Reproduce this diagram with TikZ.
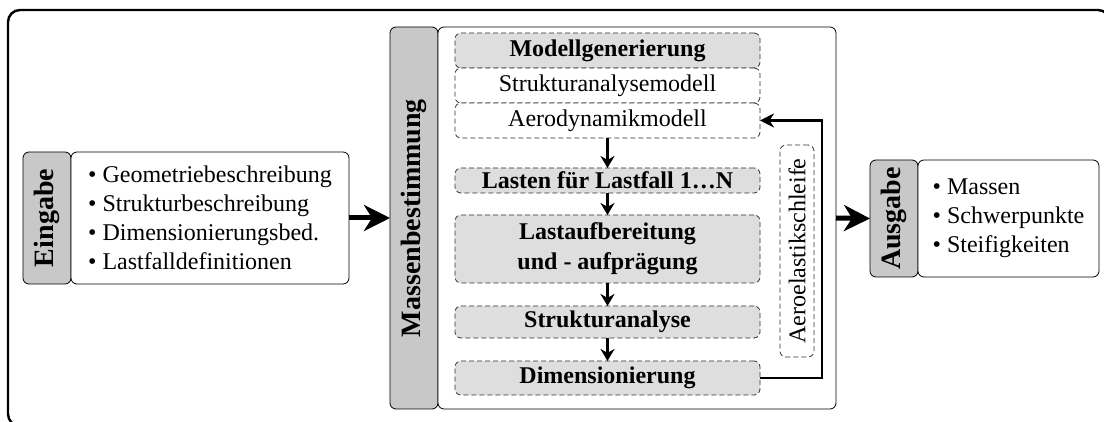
\documentclass[tikz,border=0pt]{standalone}
\usepackage{fontspec}
\setmainfont{Liberation Serif}
\usepackage{graphicx}
\usetikzlibrary{positioning}
\usetikzlibrary{arrows.meta}

\definecolor{seitengrau}{RGB}{200,200,200}
\definecolor{kastengrau}{RGB}{222,222,222}
\definecolor{strichgrau}{RGB}{50,50,50}

\begin{document}
\begin{tikzpicture}[x=0.5pt,y=-0.5pt,
      font=\fontsize{12}{14.5}\selectfont,
      seitenblock/.style={draw,fill=seitengrau,rounded corners=3pt,minimum width=24pt,inner sep=0pt,font=\fontsize{14}{16}\selectfont\bfseries},
      listenblock/.style={draw,fill=white,rounded corners=3pt,align=left,inner sep=0pt},
      schrittblock/.style={draw=strichgrau,dash pattern=on 2.5pt off 1.5pt,fill=kastengrau,rounded corners=3pt,minimum width=152.5pt,inner sep=0pt,align=center,font=\fontsize{12}{15}\selectfont\bfseries},
      modellblock/.style={schrittblock,fill=white,font=\fontsize{12}{15}\selectfont},
      pfeil/.style={-{Stealth[length=6pt,width=7pt]},line width=1.2pt},
      dickpfeil/.style={-{Stealth[length=13pt,width=13pt,inset=4pt]},line width=2.5pt},
      node distance=0pt,outer sep=0pt]
      \useasboundingbox (0,0) rectangle (1104,422);
      % Rahmen
      \begin{scope}
        \clip (0,0) rectangle (1104,422);
        \draw[line width=1.2pt,rounded corners=6pt] (8,10) rectangle (1110,426);
      \end{scope}

      % Eingabe
      \node[seitenblock,minimum height=66pt]                    (eingabe)      at (47,218)  {\rotatebox{90}{Eingabe}};
      \node[listenblock,minimum width=139pt,minimum height=66pt](eingabeliste) at (210,218) {\textbullet\ Geometriebeschreibung\\\textbullet\ Strukturbeschreibung\\\textbullet\ Dimensionierungsbed.\\\textbullet\ Lastfalldefinitionen};

      % Massenbestimmung
      \node[seitenblock,minimum height=191pt]                   (massen) at (414,218) {\rotatebox{90}{Massenbestimmung}};
      \node[draw,fill=white,rounded corners=3pt,minimum width=199pt,minimum height=191pt](haupt) at (637,218) {};

      \node[schrittblock,minimum height=17.5pt]                              (modell)           at (607.5,50.5) {Modellgenerierung};
      \node[modellblock,minimum height=17.5pt,below=of modell]               (strukturmodell)   {Strukturanalysemodell};
      \node[modellblock,minimum height=17.5pt,below=of strukturmodell]       (aeromodell)       {Aerodynamikmodell};
      \node[schrittblock,minimum height=12.5pt,below=15pt of aeromodell]     (lasten)           {Lasten für Lastfall 1…N};
      \node[schrittblock,minimum height=34pt,below=11pt of lasten]           (lastaufbereitung) {Lastaufbereitung\\und - aufprägung};
      \node[schrittblock,minimum height=16pt,below=11.5pt of lastaufbereitung](strukturanalyse) {Strukturanalyse};
      \node[schrittblock,minimum height=17pt,below=11.5pt of strukturanalyse](dimensionierung)  {Dimensionierung};

      \node[draw=strichgrau,dash pattern=on 2.5pt off 1.5pt,rounded corners=3pt,minimum width=17pt,minimum height=106pt,inner sep=0pt](schleife) at (797,251) {\rotatebox{90}{Aeroelastikschleife}};

      % Ausgabe
      \node[seitenblock,minimum height=58.5pt]                     (ausgabe)      at (894,218.5)  {\rotatebox{90}{Ausgabe}};
      \node[listenblock,minimum width=90.5pt,minimum height=58.5pt](ausgabeliste) at (1008.5,218.5) {\textbullet\ Massen\\\textbullet\ Schwerpunkte\\\textbullet\ Steifigkeiten};

      % Pfeile
      \draw[pfeil] (aeromodell) -- (lasten);
      \draw[pfeil] (lasten) -- (lastaufbereitung);
      \draw[pfeil] (lastaufbereitung) -- (strukturanalyse);
      \draw[pfeil] (strukturanalyse) -- (dimensionierung);
      \draw[-{Stealth[length=7pt,width=7pt]},line width=1.2pt] (dimensionierung.east) -- ++(62,0) |- (aeromodell.east);
      \draw[dickpfeil] (eingabeliste.east) -- (massen.west);
      \draw[dickpfeil] (haupt.east) -- (ausgabe.west);

    \end{tikzpicture}
\end{document}
